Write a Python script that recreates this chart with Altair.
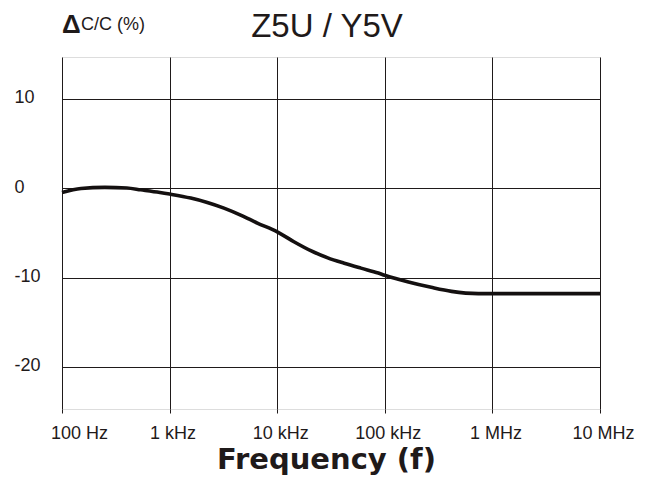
import altair as alt
import pandas as pd

# Data
freq_hz = [100, 150, 250, 400, 540, 813, 1000, 1570, 2240, 3200, 4570, 6530,
           10000, 14300, 20500, 29500, 42000, 60000, 87000, 100000, 166000,
           270000, 417000, 740000, 1000000, 10000000]
delta_cap_pct = [-0.5, -0.05, 0.07, 0.0, -0.2, -0.49, -0.67, -1.12, -1.61, -2.24,
                 -3.02, -3.91, -4.9, -6.0, -7.0, -7.8, -8.4, -8.95, -9.5, -9.75,
                 -10.5, -11.1, -11.55, -11.8, -11.8, -11.8]

x_tick_values = [100, 1000, 10000, 100000, 1000000, 10000000]
x_tick_labels = ["100 Hz", "1 kHz", "10 kHz", "100 kHz", "1 MHz", "10 MHz"]
y_tick_values = [-20, -10, 0, 10]

title_text = ["Z5U / Y5V"]
x_title = "Frequency (f)"
delta_symbol = ["Δ"]
y_unit_label = ["C/C (%)"]

FONT = "Liberation Sans"
INK = "#1f1a1a"

df = pd.DataFrame({"f": freq_hz, "d": delta_cap_pct})

label_expr = ""
for v, lab in zip(x_tick_values, x_tick_labels):
    label_expr += f"datum.value == {v} ? '{lab}' : "
label_expr += "''"

x_enc = alt.X(
    "f:Q",
    scale=alt.Scale(type="log", domain=[100, 10000000], nice=False),
    axis=alt.Axis(
        values=x_tick_values,
        labelExpr=label_expr,
        grid=True,
        gridColor=INK,
        gridWidth=1,
        gridOpacity=1,
        domain=False,
        ticks=True,
        tickSize=4,
        tickColor=INK,
        labelFont=FONT,
        labelFontSize=18,
        labelColor=INK,
        labelBaseline="alphabetic",
        labelPadding=25,
        labelOffset={"condition": {"test": "datum.value == 100", "value": 17}, "value": 3},
        labelFlush=False,
        labelOverlap=False,
        title=x_title,
        titleFont="DejaVu Sans",
        titleFontSize=29,
        titleFontWeight="bold",
        titleColor=INK,
        titleX=264,
        titleY=59,
        titleAlign="center",
        titleBaseline="alphabetic",
    ),
)

y_enc = alt.Y(
    "d:Q",
    scale=alt.Scale(domain=[-24.7, 14.65], nice=False, zero=False),
    axis=alt.Axis(
        values=y_tick_values,
        labelExpr="'' + datum.value",
        grid=True,
        gridColor=INK,
        gridWidth=1,
        gridOpacity=1,
        domain=False,
        ticks=False,
        labelFont=FONT,
        labelFontSize=18,
        labelColor=INK,
        labelAlign="left",
        labelBaseline="alphabetic",
        labelOffset=4,
        labelPadding=48,
        title=None,
    ),
)

line = alt.Chart(df).mark_line(
    color="#141010", strokeWidth=3.6, interpolate="monotone", clip=False
).encode(x=x_enc, y=y_enc)

title = alt.Chart(pd.DataFrame({"t": title_text})).mark_text(
    font=FONT, fontSize=33, color=INK, align="center", baseline="alphabetic"
).encode(text="t:N", x=alt.value(265), y=alt.value(-20))

delta = alt.Chart(pd.DataFrame({"t": delta_symbol})).mark_text(
    font=FONT, fontSize=26, fontWeight="bold", color=INK,
    align="left", baseline="alphabetic"
).encode(text="t:N", x=alt.value(0), y=alt.value(-24.5))

unit = alt.Chart(pd.DataFrame({"t": y_unit_label})).mark_text(
    font=FONT, fontSize=18, color=INK, align="left", baseline="alphabetic"
).encode(text="t:N", x=alt.value(19), y=alt.value(-27))

chart = alt.layer(line, title, delta, unit).properties(
    width=538,
    height=352,
    autosize=alt.AutoSizeParams(type="none"),
    padding={"left": 62, "top": 57, "right": 49, "bottom": 72},
).configure_view(
    stroke=INK, strokeWidth=1.5
).configure(background="white")

chart.save("out.html", embed_options={"renderer": "svg", "actions": False})
